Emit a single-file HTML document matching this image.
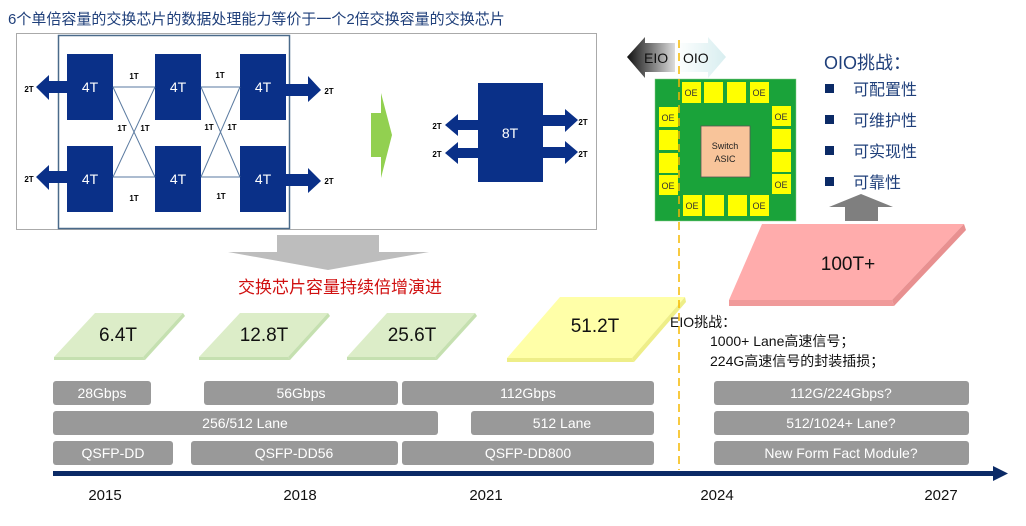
<!DOCTYPE html>
<html><head><meta charset="utf-8"><style>
body{margin:0;background:#fff}
svg text{font-family:"Liberation Sans","Noto Sans CJK SC",sans-serif}
</style></head><body>
<svg width="1026" height="521" viewBox="0 0 1026 521" xmlns="http://www.w3.org/2000/svg">
<defs>
<linearGradient id="eio" x1="0" x2="1"><stop offset="0" stop-color="#111"/><stop offset="1" stop-color="#ddd"/></linearGradient>
<linearGradient id="oio" x1="0" x2="1"><stop offset="0" stop-color="#fff"/><stop offset="1" stop-color="#d8eef0"/></linearGradient>
</defs>
<text x="8" y="24" font-size="15" fill="#1f3f7a">6个单倍容量的交换芯片的数据处理能力等价于一个2倍交换容量的交换芯片</text>
<rect x="16.5" y="33.5" width="580" height="196" fill="#fff" stroke="#aaa"/>
<rect x="58.5" y="35.5" width="231" height="193" fill="none" stroke="#4a6a8a" stroke-width="1.5"/>
<g fill="#0a3088">
<rect x="67" y="54" width="46" height="66"/><rect x="155" y="54" width="46" height="66"/><rect x="240" y="54" width="46" height="66"/>
<rect x="67" y="146" width="46" height="66"/><rect x="155" y="146" width="46" height="66"/><rect x="240" y="146" width="46" height="66"/>
<polygon points="67,81 49,81 49,75 36,87 49,100 49,93 67,93"/>
<polygon points="67,171 49,171 49,165 36,177 49,190 49,183 67,183"/>
<polygon points="285,84 308,84 308,76 321,90 308,102 308,96 285,96"/>
<polygon points="285,174 308,174 308,168 321,181 308,193 308,186 285,186"/>
<rect x="478" y="83" width="65" height="99"/>
<polygon points="478,120 458,120 458,114 445,125 458,136 458,130 478,130"/>
<polygon points="478,148 458,148 458,142 445,153 458,164 458,158 478,158"/>
<polygon points="543,115 565,115 565,109 578,120 565,132 565,126 543,126"/>
<polygon points="543,147 565,147 565,141 578,152 565,164 565,158 543,158"/>
</g>
<g stroke="#5a7aa0" stroke-width="1" fill="none">
<line x1="113" y1="87" x2="155" y2="87"/><line x1="113" y1="177" x2="155" y2="177"/>
<line x1="201" y1="87" x2="240" y2="87"/><line x1="201" y1="177" x2="240" y2="177"/>
<line x1="113" y1="87" x2="155" y2="177"/><line x1="113" y1="177" x2="155" y2="87"/>
<line x1="201" y1="87" x2="240" y2="177"/><line x1="201" y1="177" x2="240" y2="87"/>
</g>
<g font-size="14" fill="#fff" text-anchor="middle">
<text x="90" y="92">4T</text><text x="178" y="92">4T</text><text x="263" y="92">4T</text>
<text x="90" y="184">4T</text><text x="178" y="184">4T</text><text x="263" y="184">4T</text>
<text x="510" y="138">8T</text>
</g>
<g font-size="8" font-weight="bold" fill="#000" text-anchor="middle">
<text x="29" y="92">2T</text><text x="29" y="182">2T</text><text x="329" y="94">2T</text><text x="329" y="184">2T</text>
<text x="134" y="79">1T</text><text x="220" y="78">1T</text><text x="134" y="201">1T</text><text x="221" y="199">1T</text>
<text x="122" y="131">1T</text><text x="145" y="131">1T</text><text x="209" y="130">1T</text><text x="232" y="130">1T</text>
<text x="437" y="129">2T</text><text x="437" y="157">2T</text><text x="583" y="125">2T</text><text x="583" y="157">2T</text>
</g>
<polygon points="371,113 381,113 381,93 392,135 381,178 381,157 371,157" fill="#92d050"/>
<polygon points="277,235 379,235 379,252 429,252 328,270 228,252 277,252" fill="#bdbdbd"/>
<text x="340" y="293" font-size="17" fill="#d01010" text-anchor="middle">交换芯片容量持续倍增演进</text>
<g>
<polygon points="95,313 183,313 143,357 54,357" fill="#dcedc8"/><polygon points="183,313 185,316 145,360 143,357" fill="#c5e0b0"/><polygon points="54,357 143,357 145,360 54,360" fill="#c5e0b0"/>
<polygon points="240,313 328,313 288,357 199,357" fill="#dcedc8"/><polygon points="328,313 330,316 290,360 288,357" fill="#c5e0b0"/><polygon points="199,357 288,357 290,360 199,360" fill="#c5e0b0"/>
<polygon points="387,313 475,313 435,357 347,357" fill="#dcedc8"/><polygon points="475,313 477,316 437,360 435,357" fill="#c5e0b0"/><polygon points="347,357 435,357 437,360 347,360" fill="#c5e0b0"/>
<polygon points="560,297 685,297 632,358 507,358" fill="#ffffa8"/><polygon points="685,297 686,302 634,362 632,358" fill="#eeee88"/><polygon points="507,358 632,358 634,362 507,362" fill="#eeee88"/>
<polygon points="762,224 964,224 892,300 729,300" fill="#ffacac"/><polygon points="964,224 966,230 894,306 892,300" fill="#e89090"/><polygon points="729,300 892,300 894,306 729,306" fill="#f09a9a"/>
</g>
<g font-size="19" fill="#111" text-anchor="middle">
<text x="118" y="341">6.4T</text><text x="264" y="341">12.8T</text><text x="412" y="341">25.6T</text><text x="595" y="332">51.2T</text><text x="848" y="270">100T+</text>
</g>
<g font-size="14" fill="#111">
<text x="670" y="327">EIO挑战：</text><text x="710" y="346">1000+ Lane高速信号；</text><text x="710" y="366">224G高速信号的封装插损；</text>
</g>
<g fill="#999"><rect x="53" y="381" width="98" height="24" rx="3"/><rect x="204" y="381" width="194" height="24" rx="3"/><rect x="402" y="381" width="252" height="24" rx="3"/><rect x="714" y="381" width="255" height="24" rx="3"/>
<rect x="53" y="411" width="385" height="24" rx="3"/><rect x="471" y="411" width="183" height="24" rx="3"/><rect x="714" y="411" width="255" height="24" rx="3"/>
<rect x="53" y="441" width="120" height="24" rx="3"/><rect x="191" y="441" width="207" height="24" rx="3"/><rect x="402" y="441" width="252" height="24" rx="3"/><rect x="714" y="441" width="255" height="24" rx="3"/></g>
<g font-size="14" fill="#fff" text-anchor="middle">
<text x="102" y="398">28Gbps</text><text x="301" y="398">56Gbps</text><text x="528" y="398">112Gbps</text><text x="841" y="398">112G/224Gbps?</text>
<text x="245" y="428">256/512 Lane</text><text x="562" y="428">512 Lane</text><text x="841" y="428">512/1024+ Lane?</text>
<text x="113" y="458">QSFP-DD</text><text x="294" y="458">QSFP-DD56</text><text x="528" y="458">QSFP-DD800</text><text x="841" y="458">New Form Fact Module?</text>
</g>
<rect x="53" y="471" width="942" height="5" fill="#0b2a66"/><polygon points="993,466 1008,473.5 993,481" fill="#0b2a66"/>
<g font-size="15" fill="#111" text-anchor="middle"><text x="105" y="500">2015</text><text x="300" y="500">2018</text><text x="486" y="500">2021</text><text x="717" y="500">2024</text><text x="941" y="500">2027</text></g>
<polygon points="675,43 645,43 645,37 627,57 645,78 645,72 675,72" fill="url(#eio)"/>
<polygon points="675,43 708,43 708,37 726,57 708,78 708,72 675,72" fill="url(#oio)"/>
<text x="644" y="63" font-size="14" fill="#111">EIO</text><text x="683" y="63" font-size="14" fill="#111">OIO</text>
<rect x="655" y="79" width="141" height="142" fill="#1aa33a" stroke="#8c8" stroke-width="0.5"/>
<rect x="701" y="126" width="49" height="51" fill="#f8c49a" stroke="#555" stroke-width="0.8"/>
<text x="725" y="149" font-size="9" text-anchor="middle" fill="#222">Switch</text><text x="725" y="162" font-size="9" text-anchor="middle" fill="#222">ASIC</text>
<g fill="#ffff00">
<rect x="682" y="82" width="19" height="21"/><rect x="704" y="82" width="19" height="21"/><rect x="727" y="82" width="19" height="21"/><rect x="750" y="82" width="19" height="21"/>
<rect x="683" y="195" width="19" height="21"/><rect x="705" y="195" width="19" height="21"/><rect x="728" y="195" width="19" height="21"/><rect x="750" y="195" width="19" height="21"/>
<rect x="659" y="107" width="19" height="20"/><rect x="659" y="130" width="19" height="20"/><rect x="659" y="153" width="19" height="20"/><rect x="659" y="175" width="19" height="20"/>
<rect x="772" y="106" width="19" height="20"/><rect x="772" y="129" width="19" height="20"/><rect x="772" y="152" width="19" height="20"/><rect x="772" y="174" width="19" height="20"/>
</g>
<g font-size="9" fill="#333" text-anchor="middle">
<text x="691" y="96">OE</text><text x="759" y="96">OE</text><text x="692" y="209">OE</text><text x="759" y="209">OE</text>
<text x="668" y="121">OE</text><text x="668" y="189">OE</text><text x="781" y="120">OE</text><text x="781" y="188">OE</text>
</g>
<line x1="679" y1="40" x2="679" y2="470" stroke="#f5b800" stroke-width="1.5" stroke-dasharray="8,5"/>
<text x="824" y="69" font-size="18" fill="#1f3f7a">OIO挑战：</text>
<g fill="#0b2a66"><rect x="825" y="84" width="9" height="9"/><rect x="825" y="115" width="9" height="9"/><rect x="825" y="146" width="9" height="9"/><rect x="825" y="177" width="9" height="9"/></g>
<g font-size="16" fill="#1f3f7a"><text x="853" y="95">可配置性</text><text x="853" y="126">可维护性</text><text x="853" y="157">可实现性</text><text x="853" y="188">可靠性</text></g>
<polygon points="845,221 878,221 878,207 893,207 861,194 829,207 845,207" fill="#7f7f7f"/>
</svg>
</body></html>
